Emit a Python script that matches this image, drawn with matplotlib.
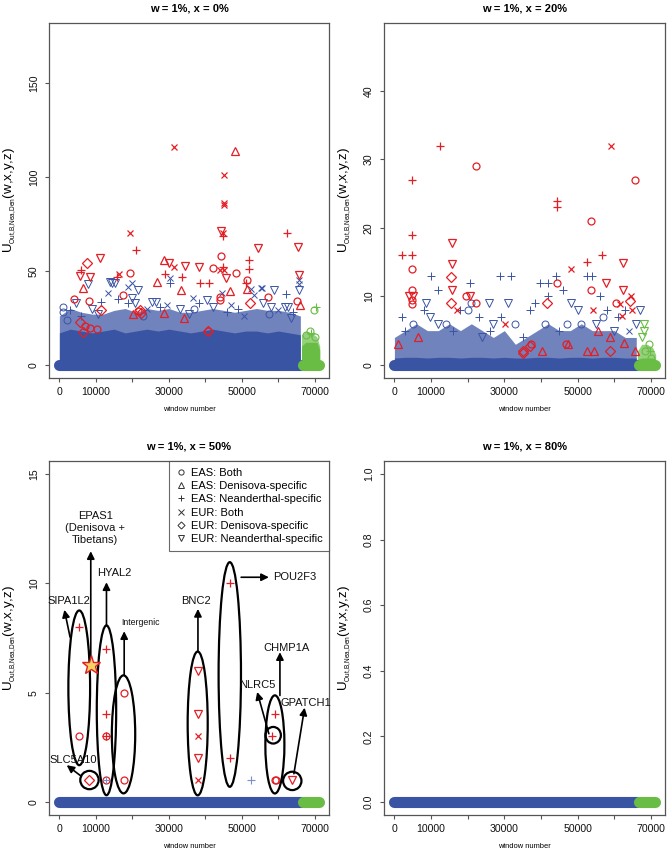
import numpy as np
import matplotlib
matplotlib.use('Agg')
import matplotlib.pyplot as plt
from matplotlib.patches import Ellipse
from matplotlib.lines import Line2D

plt.rcParams['font.family'] = ['Liberation Sans', 'DejaVu Sans']
plt.rcParams['mathtext.fontset'] = 'custom'
plt.rcParams['mathtext.rm'] = 'Liberation Sans'
plt.rcParams['mathtext.it'] = 'Liberation Sans:italic'

# ---------------- data ----------------
TITLES = ['w = 1%, x = 0%', 'w = 1%, x = 20%', 'w = 1%, x = 50%', 'w = 1%, x = 80%']
CATS = ['EB', 'ED', 'EN', 'UB', 'UD', 'UN']
CAT_LABELS = ['EAS: Both', 'EAS: Denisova-specific', 'EAS: Neanderthal-specific',
              'EUR: Both', 'EUR: Denisova-specific', 'EUR: Neanderthal-specific']
XTICKS = [0, 10000, 20000, 30000, 40000, 50000, 60000, 70000]
XTICKLABELS = ['0', '10000', '', '30000', '', '50000', '', '70000']
YLABEL = r'U$_{{}_{\mathregular{Out{,}B{,}Nea{,}Den}}}$(w,x,y,z)'

# windows ranges (autosomes, chrX)
BLUE_WINDOWS = [0, 66300]
GREEN_WINDOWS = [66700, 71000]

# envelope of the dense mass of points (window bins)
ENV_X = [0, 3000, 6000, 9000, 12000, 15000, 18000, 21000, 24000, 27000, 30000, 33000,
         36000, 39000, 42000, 45000, 48000, 51000, 54000, 57000, 60000, 63000, 66000]
TL_SOLID = [17, 19, 18, 17, 18, 19, 17, 18, 19, 18, 19, 18, 17, 18, 19, 18, 17, 18, 18, 17, 18, 17, 16]
TL_FRINGE = [26, 30, 28, 27, 27, 29, 30, 28, 30, 29, 30, 28, 28, 29, 30, 29, 28, 29, 30, 29, 29, 28, 26]
TR_SOLID = [1.0, 1.1, 1.1, 1.0, 1.1, 1.1, 1.0, 1.1, 1.1, 1.0, 1.1, 1.0, 1.0, 1.1, 1.1, 1.0, 1.1,
            1.1, 1.0, 1.1, 1.1, 1.0, 1.0]
TR_FRINGE = [4, 5, 6, 5, 5, 6, 5, 6, 5, 4, 5, 3, 4, 5, 6, 5, 5, 6, 5, 5, 5, 4, 4]
GENV_X = [66300, 67500, 69000, 70500, 71300]
TL_GSOLID = [10, 12, 12, 12, 8]
TL_GFRINGE = [16, 18, 17, 15, 10]
TR_GSOLID = [0.8, 1.0, 1.0, 1.0, 0.8]
TR_GFRINGE = [2, 3, 3, 2.5, 1.5]

# ---- panel 1 (x = 0%) ----
TL_RED_X = [31300, 48100, 45100, 45100, 45000, 44400, 44800, 44900, 19400, 62300, 21000, 54500,
            65300, 11000, 7700, 28700, 5800, 5700, 8500, 6500, 34300, 38300, 42000, 30000, 31300,
            33700, 29000, 26700, 33300, 44300, 43900, 45200, 44800, 48400, 45500, 38400, 40900,
            46600, 44100, 44100, 51900, 51900, 51500, 51000, 51500, 57000, 52200, 65500, 65200,
            65800, 40600, 40600, 15900, 16400, 19300, 17500, 4000, 8200, 11400, 20200, 22000,
            22400, 21500, 28700, 34000, 5600, 6500, 8300, 10200, 7000]
TL_RED_Y = [116, 114, 101, 86, 85, 71.5, 70, 68.5, 70, 70, 61, 62,
            63, 56.7, 54, 56, 50.5, 47.5, 46.7, 40.8, 52.8, 52, 51.3, 54, 52.3,
            47, 48.4, 44.3, 40, 58, 50.5, 50.5, 52, 49, 46, 43.8, 43.8,
            39.4, 36.3, 34.5, 56, 51, 45, 43.5, 40.3, 36.3, 33, 48, 34.2,
            31.8, 18, 18, 47, 48.3, 49, 37.2, 35, 34, 29, 27, 29.3,
            27.5, 28.5, 27.8, 25.2, 22.7, 17.5, 19.5, 19, 20.5]
TL_RED_C = ['UB', 'ED', 'UB', 'UB', 'UB', 'UN', 'UB', 'EN', 'UB', 'EN', 'EN', 'UN',
            'UN', 'UN', 'UD', 'ED', 'EN', 'UN', 'UN', 'ED', 'UN', 'UN', 'EB', 'UN', 'UB',
            'EN', 'EN', 'ED', 'ED', 'EB', 'UB', 'UB', 'EN', 'EB', 'UN', 'EN', 'EN',
            'ED', 'EB', 'EB', 'EN', 'EN', 'EB', 'EN', 'ED', 'EB', 'UD', 'UN', 'EB',
            'ED', 'EB', 'UD', 'EN', 'UB', 'EB', 'EB', 'EB', 'EB', 'UD', 'ED', 'UD',
            'UD', 'EB', 'ED', 'ED', 'UD', 'UD', 'EB', 'EB', 'EB']
TL_BLUE_X = [1000, 1000, 7900, 14300, 13400, 21400, 18900, 11500, 25300, 26400, 30300, 30300,
             19800, 20600, 18700, 29500, 36500, 40500, 44600, 38200, 62000, 55600, 58800, 65700,
             65700, 65700, 62500, 61800, 53300, 55900, 13900, 15300, 19900, 52400, 55300, 4500,
             3000, 9000, 16000, 24000, 27500, 33000, 37000, 42000, 47000, 49000, 58000, 60000,
             64000, 2000, 6000, 10500, 23000, 35500, 46000, 50500, 57500, 63500]
TL_BLUE_Y = [31, 28, 43, 43.6, 38, 40, 41.5, 33.7, 33.7, 33.7, 46, 43.5,
             35.5, 32.8, 32.8, 32, 35.5, 34.6, 38, 33, 37.8, 40.8, 40, 43,
             40, 45, 31, 31, 37.2, 32.8, 44.3, 43.4, 43.4, 40.2, 40.8, 33,
             29, 30, 35, 30, 31, 30, 30, 31, 32, 30, 31, 29,
             28, 24, 26, 27, 26, 27, 28, 26, 27, 25]
TL_BLUE_C = ['EB', 'EB', 'UN', 'UN', 'UB', 'UN', 'UB', 'EN', 'UN', 'UN', 'UB', 'EN',
             'UN', 'UN', 'EN', 'UB', 'UB', 'UN', 'UB', 'EN', 'EN', 'UB', 'UN', 'UB',
             'UN', 'UB', 'UN', 'UN', 'UB', 'UN', 'UN', 'UN', 'UB', 'UB', 'UB', 'UN',
             'EN', 'UN', 'EN', 'UB', 'EN', 'UN', 'EB', 'UN', 'UB', 'EN', 'UN', 'UB',
             'EN', 'EB', 'EN', 'UN', 'EB', 'UN', 'EN', 'UB', 'EB', 'UN']
TL_GREEN_X = [69600, 70400, 67500, 68500, 70000, 69000]
TL_GREEN_Y = [29, 31, 16, 18, 15, 17]
TL_GREEN_C = ['EB', 'EN', 'EB', 'EB', 'EB', 'EN']

# ---- panel 2 (x = 20%) ----
TR_RED_X = [12500, 22200, 4750, 4750, 2000, 4750, 4750, 4750, 4100, 5000, 4750, 4750, 6400, 900,
            15700, 15700, 15500, 15700, 15500, 17200, 19600, 20500, 22200, 30300, 35000, 37200,
            40300, 41700, 44300, 44300, 44300, 48200, 46800, 47500, 52500, 52500, 53700, 53700,
            54300, 54600, 55500, 56600, 57800, 59100, 58700, 58700, 60500, 61600, 62000, 62300,
            62500, 62700, 65700, 64500, 64300, 64800, 65700, 37000, 35100]
TR_RED_Y = [32, 29, 27, 19, 16, 16, 14, 11, 10.1, 10.1, 9.5, 8.9, 4, 3.1,
            17.8, 14.8, 12.9, 11, 9, 8, 10, 10, 9, 6, 2, 3,
            2, 9, 12, 24, 23, 14, 3, 3, 2, 15, 21, 11,
            8, 2, 5, 16, 12, 32, 2, 4, 9, 8.9, 7.1, 14.9,
            11, 3.2, 27, 10, 9.3, 8, 2, 2.8, 1.8]
TR_RED_C = ['EN', 'EB', 'EN', 'EN', 'EN', 'EN', 'EB', 'EB', 'UN', 'UN', 'EB', 'EB', 'ED', 'ED',
            'UN', 'UN', 'UD', 'UN', 'UD', 'UB', 'EB', 'UN', 'EB', 'UB', 'UD', 'EB',
            'ED', 'UD', 'EB', 'EN', 'EN', 'UB', 'EB', 'ED', 'ED', 'EN', 'EB', 'EB',
            'UB', 'ED', 'ED', 'EN', 'UN', 'UB', 'UD', 'ED', 'EB', 'UB', 'UB', 'UN',
            'UN', 'ED', 'EB', 'UB', 'UD', 'UB', 'ED', 'UD', 'UD']
TR_BLUE_X = [10000, 11900, 20700, 28700, 31900, 2200, 8600, 9700, 25700, 30900, 44100, 46100,
             39700, 42000, 52500, 53800, 48100, 56100, 67000, 38300, 42000, 36900, 20000, 21000,
             18000, 23000, 27000, 33000, 14000, 12000, 5000, 3000, 50000, 51000, 55000, 58000,
             60000, 63000, 64000, 47000, 41000, 35000, 26000, 8000, 16000, 24000, 45000, 57000,
             66000, 61000, 29000]
TR_BLUE_Y = [13, 11, 12, 13, 13, 7, 9, 7, 9, 9, 13, 11,
             12, 12, 13, 13, 9, 10, 8, 9, 10, 8, 8, 9,
             8, 7, 6, 6, 6, 6, 6, 5, 8, 6, 6, 8,
             5, 8, 5, 6, 6, 4, 5, 8, 5, 4, 5, 7,
             6, 7, 7]
TR_BLUE_C = ['EN', 'EN', 'EN', 'EN', 'EN', 'EN', 'UN', 'UN', 'UN', 'UN', 'EN', 'EN',
             'EN', 'EN', 'EN', 'EN', 'UN', 'EN', 'UN', 'EN', 'EN', 'EN', 'EB', 'EB',
             'EN', 'EN', 'UN', 'EB', 'EB', 'UN', 'EB', 'EN', 'UN', 'EB', 'UN', 'EN',
             'UN', 'EN', 'UB', 'EB', 'EB', 'EN', 'EN', 'EN', 'EN', 'UN', 'EN', 'EB',
             'UN', 'EN', 'EN']
TR_GREEN_X = [68000, 68000, 69400, 69800, 70000, 67500, 68500]
TR_GREEN_Y = [6, 5, 3, 2, 1, 4, 2]
TR_GREEN_C = ['UN', 'UN', 'EB', 'EN', 'EB', 'UN', 'EB']

# ---- panel 3 (x = 50%) ----
BL_RED_X = [5300, 5300, 8240, 12800, 12800, 12800, 12800, 12800, 17570, 17570,
            37880, 37880, 37880, 37880, 37880, 46660, 46660, 58930, 58290, 59100, 59300, 63590]
BL_RED_Y = [8, 3, 1, 7, 4, 3, 3, 1, 5, 1,
            6, 4, 3, 2, 1, 10, 2, 4, 3, 1, 1, 1]
BL_RED_C = ['EN', 'EB', 'UD', 'EN', 'EN', 'EB', 'EN', 'EB', 'EB', 'EB',
            'UN', 'UN', 'UB', 'UN', 'UB', 'EN', 'EN', 'EN', 'EN', 'EB', 'EB', 'UN']
BL_BLUE_X = [12800, 52500]
BL_BLUE_Y = [1, 1]
BL_BLUE_C = ['EN', 'EN']
STAR_X, STAR_Y = 8600, 6.25   # EPAS1

# ellipses: center x, center y, width (windows), height (U)
ELL_X = [5440, 12900, 17570, 37880, 46670, 59020, 58560, 8240, 63780]
ELL_Y = [5.22, 4.19, 3.09, 3.59, 5.83, 2.63, 3.05, 1.0, 0.96]
ELL_W = [5950, 5310, 6400, 5490, 6130, 5215, 4210, 5030, 5030]
ELL_H = [7.08, 7.77, 5.4, 6.58, 10.28, 4.49, 0.76, 0.84, 0.84]

# gene labels with arrows (arrow start, arrow end, text position)
GENES = ['SIPA1L2', 'EPAS1\n(Denisova +\nTibetans)', 'HYAL2', 'Intergenic', 'BNC2',
         'POU2F3', 'CHMP1A', 'NLRC5', 'GPATCH1', 'SLC5A10']
ARR_X0 = [2930, 8600, 12900, 17750, 37950, 49780, 60400, 57370, 64230, 5860]
ARR_Y0 = [7.54, 6.6, 8.07, 5.79, 6.88, 10.28, 4.87, 3.12, 1.29, 1.19]
ARR_X1 = [1370, 8600, 12900, 17750, 37950, 57370, 60400, 54170, 67160, 2010]
ARR_Y1 = [8.79, 11.47, 10.05, 7.81, 8.83, 10.28, 6.85, 5.03, 4.31, 1.68]
TXT_X = [2700, 9790, 15100, 22330, 37330, 64420, 62130, 54170, 67430, 3840]
TXT_Y = [9.18, 12.55, 10.46, 8.19, 9.18, 10.28, 7.04, 5.36, 4.54, 1.9]
TXT_SIZE = [8, 8, 8, 6.3, 8, 8, 8, 8, 8, 8]

# ---------------- style ----------------
BLUE = '#3A54A4'
RED = '#E31E24'
GREEN = '#69BD45'
MARKER = {'EB': 'o', 'ED': '^', 'EN': '+', 'UB': 'x', 'UD': 'D', 'UN': 'v'}
MSIZE = {'EB': 5.0, 'ED': 6.3, 'EN': 6.0, 'UB': 5.0, 'UD': 4.8, 'UN': 6.3}
AXCOL = '#555555'


def draw_points(ax, xs, ys, cs, color, lw=0.9, z=3):
    xs = np.asarray(xs, float)
    ys = np.asarray(ys, float)
    cs = np.asarray(cs)
    for c in CATS:
        m = cs == c
        if m.any():
            ax.plot(xs[m], ys[m], ls='none', marker=MARKER[c], ms=MSIZE[c],
                    mfc='none', mec=color, mew=lw, zorder=z)


def draw_base(ax):
    ax.plot(BLUE_WINDOWS, [0, 0], color=BLUE, lw=8, solid_capstyle='round', zorder=2)
    ax.plot(GREEN_WINDOWS, [0, 0], color=GREEN, lw=8, solid_capstyle='round', zorder=2.1)


def draw_mass(ax, solid, fringe, gsolid, gfringe):
    ax.fill_between(ENV_X, 0, fringe, color=BLUE, alpha=0.72, lw=0, zorder=1.5)
    ax.fill_between(ENV_X, 0, solid, color=BLUE, lw=0, zorder=1.6)
    ax.fill_between(GENV_X, 0, gfringe, color=GREEN, alpha=0.7, lw=0, zorder=1.7)
    ax.fill_between(GENV_X, 0, gsolid, color=GREEN, lw=0, zorder=1.8)


def setup(ax, ymax, yticks, yticklabels, title):
    pad = 0.04
    ax.set_xlim(-2840, 73840)
    ax.set_ylim(-ymax * pad, ymax * (1 + pad))
    ax.set_xticks(XTICKS)
    ax.set_xticklabels(XTICKLABELS)
    ax.set_yticks(yticks)
    ax.set_yticklabels(yticklabels, rotation=90, va='center')
    ax.tick_params(axis='both', length=4.3 * 0.72, width=0.8, color=AXCOL, labelsize=7.6,
                   labelcolor='#111111')
    ax.tick_params(axis='x', pad=3.2)
    ax.tick_params(axis='y', pad=4.2)
    for s in ax.spines.values():
        s.set_color(AXCOL)
        s.set_linewidth(0.9)
    ax.set_title(title, fontsize=8, fontweight='bold', pad=8.5)
    ax.set_xlabel('window number', fontsize=5.4, labelpad=7)
    ax.set_ylabel(YLABEL, fontsize=9.6, labelpad=7)


fig = plt.figure(figsize=(6.68, 8.51), dpi=100)
W, H = 668.0, 851.0
ax1 = fig.add_axes([49 / W, (H - 378) / H, 280 / W, 355 / H])
ax2 = fig.add_axes([384 / W, (H - 378) / H, 281 / W, 355 / H])
ax3 = fig.add_axes([49 / W, (H - 815) / H, 280 / W, 354 / H])
ax4 = fig.add_axes([384 / W, (H - 815) / H, 281 / W, 354 / H])

# panel 1
setup(ax1, 175, [0, 50, 100, 150], ['0', '50', '100', '150'], TITLES[0])
draw_mass(ax1, TL_SOLID, TL_FRINGE, TL_GSOLID, TL_GFRINGE)
draw_base(ax1)
draw_points(ax1, TL_BLUE_X, TL_BLUE_Y, TL_BLUE_C, BLUE, lw=0.7)
draw_points(ax1, TL_GREEN_X, TL_GREEN_Y, TL_GREEN_C, GREEN, lw=0.8)
draw_points(ax1, TL_RED_X, TL_RED_Y, TL_RED_C, RED, z=4)

# panel 2
setup(ax2, 48, [0, 10, 20, 30, 40], ['0', '10', '20', '30', '40'], TITLES[1])
draw_mass(ax2, TR_SOLID, TR_FRINGE, TR_GSOLID, TR_GFRINGE)
draw_base(ax2)
draw_points(ax2, TR_BLUE_X, TR_BLUE_Y, TR_BLUE_C, BLUE, lw=0.7)
draw_points(ax2, TR_GREEN_X, TR_GREEN_Y, TR_GREEN_C, GREEN, lw=0.8)
draw_points(ax2, TR_RED_X, TR_RED_Y, TR_RED_C, RED, z=4)

# panel 3
setup(ax3, 15, [0, 5, 10, 15], ['0', '5', '10', '15'], TITLES[2])
draw_base(ax3)
draw_points(ax3, BL_RED_X, BL_RED_Y, BL_RED_C, RED, z=4)
draw_points(ax3, BL_BLUE_X, BL_BLUE_Y, BL_BLUE_C, '#7D8FCB', lw=0.8, z=4.5)
ax3.plot([STAR_X], [STAR_Y], marker='*', ms=14, mfc='#F6D564', mec=RED, mew=1.0,
         ls='none', zorder=6)
for ex, ey, ew, eh in zip(ELL_X, ELL_Y, ELL_W, ELL_H):
    ax3.add_patch(Ellipse((ex, ey), ew, eh, fill=False, ec='black', lw=1.6, zorder=5))
for g, x0, y0, x1, y1, tx, ty, ts in zip(GENES, ARR_X0, ARR_Y0, ARR_X1, ARR_Y1,
                                         TXT_X, TXT_Y, TXT_SIZE):
    ax3.annotate('', xy=(x1, y1), xytext=(x0, y0),
                 arrowprops=dict(arrowstyle='-|>', color='black', lw=1.2,
                                 mutation_scale=11, shrinkA=0, shrinkB=0), zorder=5)
    ax3.text(tx, ty, g, fontsize=ts, ha='center', va='center', color='#111111',
             linespacing=1.25, zorder=6)

handles = [Line2D([], [], ls='none', marker=MARKER[c], ms=MSIZE[c] * 0.75, mfc='none',
                  mec='#333333', mew=0.7) for c in CATS]
leg = ax3.legend(handles, CAT_LABELS, loc='upper right', bbox_to_anchor=(1, 1),
                 borderaxespad=0, fontsize=8.0, frameon=True, fancybox=False,
                 edgecolor='#444444', labelspacing=0.3, handlelength=0.9,
                 handletextpad=0.45, borderpad=0.6)
leg.get_frame().set_linewidth(0.8)
leg.set_zorder(7)

# panel 4
setup(ax4, 1.0, [0, 0.2, 0.4, 0.6, 0.8, 1.0], ['0.0', '0.2', '0.4', '0.6', '0.8', '1.0'],
      TITLES[3])
draw_base(ax4)

fig.savefig('out.png', dpi=100)
